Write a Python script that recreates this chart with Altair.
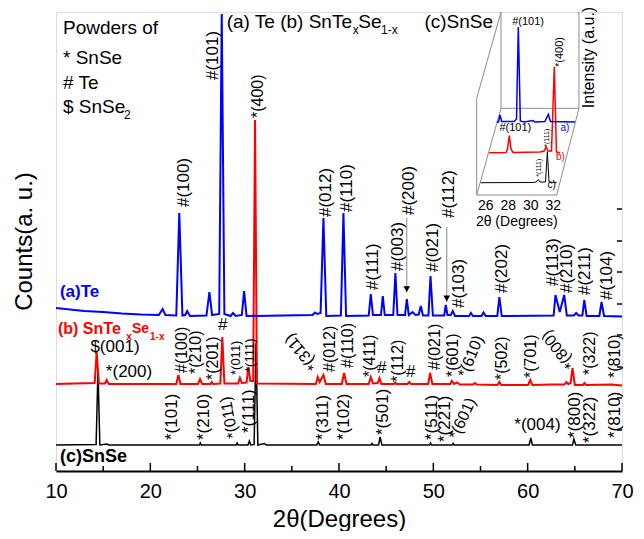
import altair as alt
import pandas as pd

FONT = "Liberation Sans"

# ---------------- main traces: 2theta (deg) vs counts (a.u., offset) ----------------
te_x = [10.0, 11.0, 13.0, 15.0, 17.0, 19.0, 20.9, 21.3, 21.6, 22.75, 23.07, 23.4, 23.7, 23.9, 24.2,
        25.95, 26.26, 26.55, 27.3, 27.57, 27.85, 28.5, 28.77, 29.05, 29.7, 29.94, 30.2, 37.2, 37.46,
        37.7, 38.05, 38.35, 38.65, 40.2, 40.47, 40.75, 43.15, 43.37, 43.6, 44.45, 44.64, 44.85, 45.75,
        45.98, 46.2, 47.0, 47.19, 47.4, 47.8, 48.1, 48.45, 48.67, 48.9, 49.48, 49.7, 49.95, 51.15,
        51.32, 51.5, 51.85, 52.06, 52.3, 53.8, 53.98, 54.2, 55.1, 55.32, 55.55, 56.78, 57.0, 57.25,
        62.75, 62.95, 63.4, 63.87, 64.15, 64.9, 65.14, 65.4, 65.8, 66.0, 66.25, 67.6, 67.83, 68.1, 70.0]
te_y = [163, 162, 160, 159, 157.5, 156.5, 156, 162, 156, 155.5, 258, 155.5, 156, 160, 155,
        155.5, 179, 156, 157, 457, 157, 155, 158, 155, 156, 180, 155, 156, 158.5,
        157, 158, 253, 155, 155.5, 258, 155, 155.5, 177, 156, 156, 175, 156, 156,
        198, 156, 156, 172, 156, 159, 156, 156.5, 165, 155.5, 155.5, 195, 155.5, 155.5,
        166, 156, 156, 160, 155, 155, 158, 155, 155, 158.5, 155, 155, 174, 155,
        155.5, 176, 159, 176, 155.5, 155.5, 158, 155.5, 155.5, 171, 155, 155, 169, 155, 154.5]

alloy_x = [10.0, 12.0, 14.1, 14.31, 14.55, 15.2, 15.37, 15.6, 20.0, 22.75, 22.97, 23.2, 25.05, 25.27,
           25.5, 26.35, 26.5, 26.65, 27.42, 27.63, 27.85, 29.3, 29.5, 29.7, 30.2, 30.4, 30.6, 30.9,
           31.1, 31.3, 37.55, 37.75, 37.95, 38.35, 38.6, 40.3, 40.54, 40.8, 43.15, 43.37, 43.6, 44.1,
           44.29, 44.5, 45.8, 45.95, 46.1, 47.25, 47.45, 47.65, 49.45, 49.66, 49.9, 51.8, 51.96, 52.2,
           52.5, 52.8, 54.2, 54.4, 54.6, 56.8, 57.0, 57.2, 60.05, 60.27, 60.5, 62.5, 63.9, 64.1, 64.3,
           64.55, 64.75, 65.0, 65.85, 66.03, 66.2, 68.9, 70.0]
alloy_y = [87, 87.5, 88, 119, 87.5, 87.5, 91, 87, 87, 87, 96, 87, 87, 92,
           87, 87, 89, 87, 87.5, 134, 87.5, 87.5, 93, 88, 88.5, 104, 90, 90,
           351, 87.5, 87, 94, 89, 96, 87, 87, 98, 87, 87, 94, 87.5, 88,
           93, 87, 87, 88.5, 87, 87, 89, 87, 87, 98, 87, 87, 90, 87,
           88.5, 86.5, 86.5, 88, 86.5, 86, 89, 86, 86, 91, 86, 86.5, 86.5, 89, 87,
           88, 103, 86, 86, 88, 86, 86.5, 85.5]

snse_x = [10.0, 14.25, 14.45, 14.65, 15.4, 15.6, 25.2, 25.3, 25.4, 29.1, 29.2, 29.3, 30.35, 30.5,
          30.65, 31.0, 31.2, 31.4, 32.1, 32.3, 37.65, 37.8, 37.95, 43.4, 43.5, 43.6, 44.2, 44.36,
          44.55, 49.6, 49.7, 49.8, 52.0, 52.1, 52.2, 60.15, 60.33, 60.5, 64.75, 64.9, 65.1, 70.0]
snse_y = [26, 26.5, 101, 26, 27, 26, 26, 28, 26, 26, 28, 26, 26, 30,
          26, 26.5, 128, 26, 27.5, 26, 26, 29, 26, 26, 27.5, 26, 26, 34,
          26, 26, 28, 26, 26, 27.5, 26, 26, 33, 26, 26, 32, 26, 26]

# ---------------- peak labels ----------------
# vertical labels (text, 2theta, counts at start of text)
te_labels = [("#(100)", 23.57, 264), ("#(101)", 26.64, 391), ("#(012)", 38.62, 254), ("#(110)", 40.82, 259),
             ("#(111)", 43.60, 181), ("#(003)", 46.25, 200), ("#(200)", 47.42, 256), ("#(021)", 49.97, 199),
             ("#(112)", 51.66, 253), ("#(103)", 52.72, 163), ("#(202)", 57.25, 178), ("#(113)", 62.69, 185),
             ("#(210)", 64.17, 178), ("#(211)", 66.13, 176), ("#(104)", 68.38, 171)]
alloy_labels = [("#(100)", 23.36, 98), ("*(210)", 24.84, 97), ("*(201)", 26.64, 91), ("*(400)", 31.41, 353),
                ("#(012)", 39.05, 99), ("#(110)", 40.95, 103), ("*(411)", 43.29, 94), ("*(112)", 46.25, 89),
                ("#(021)", 50.18, 101), ("*(601)", 52.09, 94), ("*(502)", 57.33, 91), ("*(701)", 60.32, 93),
                ("*(322)", 66.61, 96), ("*(810)", 69.26, 93)]
alloy_small_labels = [("*(011)", 29.08, 96), ("*(111)", 30.57, 99)]
snse_labels = [("*(101)", 22.30, 31), ("*(210)", 25.69, 31), ("*(111)", 30.46, 38), ("*(311)", 38.30, 31),
               ("*(102)", 40.53, 31), ("*(501)", 44.63, 36), ("*(511)", 49.83, 31), ("*(221)", 51.24, 29),
               ("*(800)", 65.07, 33), ("*(322)", 66.66, 28), ("*(810)", 69.26, 33)]
# tilted labels (text, 2theta, counts, angle)
tilted_labels = [("*(311)", 37.46, 102.7, 230), ("*(610)", 53.11, 94.3, 292), ("*(800)", 64.67, 104.3, 232),
                 ("*(011)", 28.80, 32.7, 259), ("*(601)", 52.12, 32.7, 295)]
# horizontal labels (text, 2theta, counts)
flat_labels = [("$(001)", 16.25, 124.3), ("*(200)", 17.74, 99.3), ("#", 27.67, 146), ("#", 44.53, 102.7),
               ("#", 47.60, 99.3), ("*(004)", 61.04, 46)]
# arrows (2theta, counts top, counts tip)
arrows = [(47.18, 253, 178.3), (51.42, 243.7, 169)]

# legend / title texts (text, 2theta, counts, size)
legend_texts = [("Powders of", 10.74, 443, 19), ("* SnSe", 10.74, 413, 19), ("# Te", 10.74, 388, 19),
                ("$ SnSe", 10.74, 364, 19), ("2", 17.21, 356, 12),
                ("(a) Te (b) SnTe", 28.09, 449, 19), ("x", 41.45, 441, 12), ("Se", 42.05, 449, 19),
                ("1-x", 44.45, 441, 12), ("(c)SnSe", 49.06, 449, 19)]
series_texts = [("(a)Te", 10.42, 179, 17, "#0000ff"), ("(b) SnTe", 10.21, 142, 16, "#ff0000"),
                ("x", 17.45, 134, 10, "#ff0000"), ("Se", 18.05, 142, 14, "#ff0000"),
                ("1-x", 19.97, 134, 10, "#ff0000"), ("(c)SnSe", 10.42, 14, 18, "#000000")]

x_major = [10, 20, 30, 40, 50, 60, 70]
x_minor = [15, 25, 35, 45, 55, 65]
y_right_ticks = [41, 73, 104, 136, 167, 199, 230, 262]

# ---------------- inset (2theta 26-32 waterfall) ----------------
in_a_x = [26.97, 27.13, 27.26, 27.41, 28.51, 28.73, 28.89, 29.07, 29.40, 30.20, 30.37, 31.25, 31.56, 31.75, 33.93]
in_a_y = [349, 349, 356, 349.5, 349.5, 352, 444, 350, 349, 350.5, 349, 349.5, 356.7, 349.5, 349]
in_b_x = [26.31, 27.80, 27.93, 28.09, 28.24, 28.42, 30.82, 31.18, 31.36, 31.53, 31.84, 32.09, 32.28, 32.59]
in_b_y = [318.3, 318.5, 322, 335.3, 322, 318.5, 319, 320, 324.3, 320, 320, 404.3, 319, 318.3]
in_c_x = [25.55, 30.20, 30.46, 30.67, 30.82, 31.31, 31.47, 31.62, 32.30]
in_c_y = [288.3, 288.5, 289, 291.5, 289, 289, 319.3, 289, 288.3]
in_ticks = [26, 28, 30, 32]
# pseudo-3D frame segments (x1, y1, x2, y2)
in_frame = [(27.35, 459, 25.19, 372.7), (25.19, 372.7, 25.19, 276), (27.35, 459, 27.35, 362.7),
            (27.35, 362.7, 34.28, 362.7), (34.28, 459, 34.28, 362.7), (25.19, 276, 32.30, 276),
            (32.30, 276, 34.28, 362.7), (25.19, 276, 27.35, 362.7)]
in_flat = [("#(101)", 29.76, 449, 11, "#000000"), ("#(101)", 28.62, 342.7, 11, "#000000"),
           ("a)", 33.04, 342.7, 10, "#0000ff"), ("b)", 32.64, 314.3, 10, "#ff0000"),
           ("c)", 31.86, 286, 10, "#000000"), ("2θ (Degrees)", 28.75, 249, 14, "#000000")]
in_rot = [("*(400)", 32.6, 404, 11), ("*(111)", 31.4, 324.3, 7), ("*(111)", 30.73, 294.3, 7)]

# ---------------- scales ----------------
xs = alt.Scale(domain=[10, 70], nice=False, zero=False)
ys = alt.Scale(domain=[0, 459], nice=False, zero=False)
PLOT_W, PLOT_H = 566, 459
in_px_26, in_px_per_deg = 429.8, 11.25
in_lo = 26 - in_px_26 / in_px_per_deg
ixs = alt.Scale(domain=[in_lo, in_lo + PLOT_W / in_px_per_deg], nice=False, zero=False)


def trace(x, y, color, w, scale=xs, axes=False):
    df = pd.DataFrame({"two_theta": x, "counts": y})
    if axes:
        xe = alt.X("two_theta:Q", scale=scale, axis=alt.Axis(
            values=x_major, title="2θ(Degrees)", ticks=False, domain=True, domainColor="black",
            domainWidth=2, grid=False, labelFlush=False, labelOverlap=False,
            labelFontSize=20, titleFontSize=24, labelPadding=10, titlePadding=6,
            labelFont=FONT, titleFont=FONT, titleFontWeight="normal", labelColor="black", titleColor="black"))
    else:
        xe = alt.X("two_theta:Q", scale=scale, axis=None)
    ye = alt.Y("counts:Q", scale=ys, axis=None)
    return alt.Chart(df).mark_line(color=color, strokeWidth=w).encode(x=xe, y=ye)


def table_text(df, align, bold=False, scale=xs):
    enc = dict(x=alt.X("x:Q", scale=scale, axis=None), y=alt.Y("y:Q", scale=ys, axis=None), text="text:N",
               size=alt.Size("size:Q", scale=None), color=alt.Color("color:N", scale=None))
    if "angle" in df.columns:
        enc["angle"] = alt.Angle("angle:Q", scale=None)
    return alt.Chart(df).mark_text(align=align, baseline="middle", font=FONT,
                                   fontWeight="bold" if bold else "normal").encode(**enc)


def rows_df(rows, size=None, angle=None, color="#000000", angle_col=False):
    d = {"text": [r[0] for r in rows], "x": [r[1] for r in rows], "y": [r[2] for r in rows]}
    d["size"] = [size] * len(rows) if size is not None else [r[3] for r in rows]
    d["color"] = [color] * len(rows) if color is not None else [r[4] for r in rows]
    if angle is not None:
        d["angle"] = [r[3] if angle_col else angle for r in rows]
    return pd.DataFrame(d)


layers = []
# ---------------- inset layers (own x scale) ----------------
fr_df = pd.DataFrame(in_frame, columns=["x1", "y1", "x2", "y2"])
layers.append(alt.Chart(fr_df).mark_rule(color="#8c8c8c", strokeWidth=1).encode(
    x=alt.X("x1:Q", scale=ixs, axis=None), y=alt.Y("y1:Q", scale=ys, axis=None), x2="x2:Q", y2="y2:Q"))
layers.append(trace(in_c_x, in_c_y, "#000000", 1, scale=ixs))
layers.append(trace(in_b_x, in_b_y, "#ff0000", 1.5, scale=ixs))
layers.append(trace(in_a_x, in_a_y, "#0000ff", 1.5, scale=ixs))
layers.append(table_text(pd.DataFrame({"text": [str(t) for t in in_ticks], "x": in_ticks,
                                       "y": [265] * len(in_ticks), "size": [14] * len(in_ticks),
                                       "color": ["#000000"] * len(in_ticks)}), "center", scale=ixs))
layers.append(table_text(rows_df(in_flat, color=None), "center", scale=ixs))
layers.append(table_text(rows_df(in_rot, angle=270), "left", scale=ixs))
layers.append(table_text(pd.DataFrame({"text": ["Intensity (a.u.)"], "x": [35.17], "y": [413.5], "size": [16],
                                       "color": ["#000000"], "angle": [270]}), "center", scale=ixs))

# ---------------- main layers ----------------
layers.append(trace(snse_x, snse_y, "#000000", 1.5, axes=True))
layers.append(trace(alloy_x, alloy_y, "#ff0000", 2))
layers.append(trace(te_x, te_y, "#0000ff", 2))

tick_df = pd.DataFrame({"t": x_major + x_minor, "major": [1] * len(x_major) + [0] * len(x_minor)})
layers.append(alt.Chart(tick_df[tick_df.major == 1]).mark_rule(color="black", strokeWidth=1.5).encode(
    x=alt.X("t:Q", scale=xs, axis=None), y=alt.value(PLOT_H), y2=alt.value(PLOT_H - 8)))
layers.append(alt.Chart(tick_df[tick_df.major == 0]).mark_rule(color="black", strokeWidth=1.5).encode(
    x=alt.X("t:Q", scale=xs, axis=None), y=alt.value(PLOT_H), y2=alt.value(PLOT_H - 5)))
layers.append(alt.Chart(pd.DataFrame({"c": y_right_ticks})).mark_rule(color="black", strokeWidth=1.5).encode(
    y=alt.Y("c:Q", scale=ys, axis=None), x=alt.value(PLOT_W), x2=alt.value(PLOT_W - 5)))

arr_df = pd.DataFrame(arrows, columns=["x", "top", "tip"])
layers.append(alt.Chart(arr_df).mark_rule(color="#9a9a9a", strokeWidth=1.2).encode(
    x=alt.X("x:Q", scale=xs, axis=None), y=alt.Y("top:Q", scale=ys, axis=None), y2="tip:Q"))
layers.append(alt.Chart(arr_df).mark_point(shape="triangle-down", filled=True, color="black", size=45,
                                           opacity=1, yOffset=-3.5).encode(
    x=alt.X("x:Q", scale=xs, axis=None), y=alt.Y("tip:Q", scale=ys, axis=None)))

layers.append(table_text(rows_df(te_labels, 17, 270), "left"))
layers.append(table_text(rows_df(alloy_labels, 16, 270), "left"))
layers.append(table_text(rows_df(alloy_small_labels, 13, 270), "left"))
layers.append(table_text(rows_df(snse_labels, 17, 270), "left"))
layers.append(table_text(rows_df(tilted_labels, 16, 0, angle_col=True), "left"))
layers.append(table_text(rows_df(flat_labels, 17), "center"))
layers.append(table_text(rows_df(legend_texts), "left"))
layers.append(table_text(rows_df(series_texts, color=None), "left", bold=True))

chart = alt.layer(*layers).resolve_scale(x="independent").properties(
    width=PLOT_W, height=PLOT_H, autosize="none",
    padding={"left": 48, "top": 4, "right": 14, "bottom": 60},
    title=alt.Title("Counts(a. u.)", orient="left", anchor="middle", offset=8, fontSize=24,
                    font=FONT, fontWeight="normal", color="black"),
).configure_view(stroke="black", strokeWidth=2).configure(background="white")

chart.save("out.html", embed_options={"renderer": "svg", "actions": False})
